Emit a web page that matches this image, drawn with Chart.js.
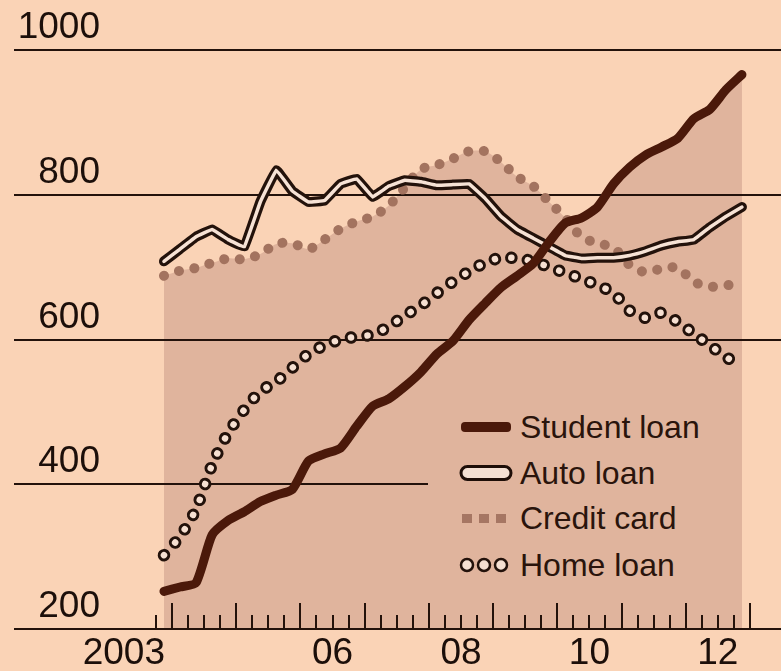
<!DOCTYPE html>
<html>
<head>
<meta charset="utf-8">
<script src="https://cdn.jsdelivr.net/npm/chart.js@4.4.1/dist/chart.umd.min.js"></script>
<style>
  html, body { margin: 0; padding: 0; background: #fad3b6; }
  #wrap { position: relative; width: 781px; height: 671px; }
  #legend {
    position: absolute; left: 428px; top: 398px; width: 353px; height: 198px;
    background: linear-gradient(to right, #e0b49d 0, #e0b49d 314px, #fad3b6 314px);
    font-family: "Liberation Sans", Arial, sans-serif;
    font-size: 32px; color: #2a140c;
  }
  .row { position: absolute; left: 30px; height: 46px; display: flex; align-items: center; white-space: nowrap; }
  .row svg { width: 56px; height: 20px; margin-right: 6px; }
</style>
</head>
<body>
<div id="wrap">
  <canvas id="chart" width="781" height="671"></canvas>
  <div id="legend">
    <div class="row" style="top:6px">
      <svg viewBox="0 0 56 20"><rect x="3" y="5" width="50" height="10" rx="4" fill="#4b190a"/></svg>
      <span>Student loan</span>
    </div>
    <div class="row" style="top:52px">
      <svg viewBox="0 0 56 20"><rect x="3" y="3.5" width="50" height="13" rx="6.5" fill="#f4e0d3" stroke="#1e0e08" stroke-width="3"/></svg>
      <span>Auto loan</span>
    </div>
    <div class="row" style="top:97px">
      <svg viewBox="0 0 56 20"><rect x="4" y="6" width="10" height="9" fill="#a67663"/><rect x="21" y="6" width="10" height="9" fill="#a67663"/><rect x="38" y="6" width="10" height="9" fill="#a67663"/></svg>
      <span>Credit card</span>
    </div>
    <div class="row" style="top:144px">
      <svg viewBox="0 0 56 20"><circle cx="9" cy="10" r="6" fill="#f6e0d2" stroke="#23120b" stroke-width="2.5"/><circle cx="26" cy="10" r="6" fill="#f6e0d2" stroke="#23120b" stroke-width="2.5"/><circle cx="43" cy="10" r="6" fill="#f6e0d2" stroke="#23120b" stroke-width="2.5"/></svg>
      <span>Home loan</span>
    </div>
  </div>
</div>
<script>
const quarters = [
  '2003Q4',
  '2004Q1', '2004Q2', '2004Q3', '2004Q4',
  '2005Q1', '2005Q2', '2005Q3', '2005Q4',
  '2006Q1', '2006Q2', '2006Q3', '2006Q4',
  '2007Q1', '2007Q2', '2007Q3', '2007Q4',
  '2008Q1', '2008Q2', '2008Q3', '2008Q4',
  '2009Q1', '2009Q2', '2009Q3', '2009Q4',
  '2010Q1', '2010Q2', '2010Q3', '2010Q4',
  '2011Q1', '2011Q2', '2011Q3', '2011Q4',
  '2012Q1', '2012Q2', '2012Q3', '2012Q4'
]

const studentLoan = [252, 258, 264, 330, 350, 362, 376, 385, 393, 432, 442, 450, 480, 508, 518, 535, 555, 580, 598, 627, 650, 672, 688, 705, 735, 761, 768, 783, 815, 838, 855, 866, 878, 905, 918, 945, 966]
const autoLoan = [708, 725, 742, 752, 738, 728, 790, 834, 805, 790, 792, 815, 822, 797, 812, 820, 818, 813, 814, 815, 795, 770, 752, 740, 728, 716, 712, 713, 713, 716, 722, 730, 735, 738, 755, 770, 783]
const creditCard = [688, 695, 699, 706, 712, 711, 718, 732, 733, 725, 738, 753, 763, 770, 785, 810, 835, 841, 850, 860, 860, 845, 825, 812, 790, 768, 742, 733, 727, 703, 693, 698, 699, 680, 673, 675, 676]
const homeLoan = [302, 328, 366, 427, 471, 503, 528, 542, 561, 580, 592, 600, 604, 607, 618, 633, 647, 664, 680, 694, 706, 713, 712, 708, 700, 692, 684, 675, 664, 640, 630, 637, 624, 608, 592, 576, 562]

const xLabelAt = [2003.25, 2006.5, 2008.5, 2010.5, 2012.5]
const xLabels = ['2003', '06', '08', '10', '12']
const yMin = 200
const yMax = 1000
const yStep = 200

const xMin = 2002.879
const xMax = 2013.483
const tickFrom = 2003.75
const tickTo = 2013

const ink = '#23120b'
const shade = '#e0b49d'
const font = '"Liberation Sans", Arial, sans-serif'

function quarterPos(q) {
  const year = parseInt(q.slice(0, 4), 10)
  const n = parseInt(q.slice(5), 10)
  return year + (n - 0.5) / 4
}

const toXY = vals => vals.map((v, i) => ({ x: quarterPos(quarters[i]), y: v }))

// tick marks stand up from the baseline: tall ones at year starts, short ones at quarters
const quarterTicks = {
  id: 'quarterTicks',
  afterDraw(chart) {
    const xs = chart.scales.x
    const base = chart.scales.y.getPixelForValue(yMin)
    const ctx = chart.ctx
    ctx.save()
    ctx.strokeStyle = ink
    ctx.lineWidth = 2
    xs.ticks.forEach(t => {
      if (t.value < tickFrom - 1e-6 || t.value > tickTo + 1e-6) return
      const px = Math.round(xs.getPixelForValue(t.value))
      const len = Number.isInteger(t.value) ? 26 : 14
      ctx.beginPath()
      ctx.moveTo(px, base)
      ctx.lineTo(px, base - len)
      ctx.stroke()
    })
    ctx.restore()
  }
}

const lineBase = {
  pointRadius: 0,
  borderCapStyle: 'round',
  borderJoinStyle: 'round',
  fill: false
}

new Chart(document.getElementById('chart'), {
  type: 'line',
  data: {
    datasets: [
      { ...lineBase, label: 'Student loan', data: toXY(studentLoan), borderColor: '#4b190a', borderWidth: 9, tension: 0.2, fill: 'start', backgroundColor: shade },
      { ...lineBase, label: 'Auto loan', data: toXY(autoLoan), borderColor: '#f6e2d5', borderWidth: 3.5, tension: 0.05 },
      { ...lineBase, label: 'Auto loan edge', data: toXY(autoLoan), borderColor: ink, borderWidth: 10, tension: 0.05 },
      { ...lineBase, label: 'Credit card', data: toXY(creditCard), borderColor: '#a3735f', borderWidth: 10, borderDash: [0.1, 15.5], tension: 0.3, fill: 'start', backgroundColor: shade },
      { ...lineBase, label: 'Home loan', data: toXY(homeLoan), borderColor: '#f6e0d2', borderWidth: 6.5, borderDash: [0.1, 16.5], tension: 0.3 },
      { ...lineBase, label: 'Home loan edge', data: toXY(homeLoan), borderColor: ink, borderWidth: 12.5, borderDash: [0.1, 16.5], tension: 0.3 }
    ]
  },
  options: {
    responsive: false,
    animation: false,
    layout: { padding: { top: 50, left: 14, right: 0, bottom: 0 } },
    plugins: {
      legend: { display: false },
      tooltip: { enabled: false },
      filler: { drawTime: 'beforeDraw' }
    },
    scales: {
      x: {
        type: 'linear',
        min: xMin,
        max: xMax,
        afterFit(scale) { scale.height = 42 },
        grid: { display: false, drawTicks: false },
        border: { display: true, color: ink, width: 2 },
        ticks: {
          stepSize: 0.25,
          includeBounds: false,
          autoSkip: false,
          maxRotation: 0,
          minRotation: 0,
          padding: 3,
          color: '#1c0f0a',
          font: { family: font, size: 37 },
          callback(value) {
            const i = xLabelAt.indexOf(value)
            return i >= 0 ? xLabels[i] : ''
          }
        }
      },
      y: {
        min: yMin,
        max: yMax,
        afterFit(scale) { scale.width = 86 },
        grid: { color: ink, lineWidth: 2, drawTicks: true, tickLength: 86 },
        border: { display: false },
        ticks: {
          stepSize: yStep,
          padding: -86,
          crossAlign: 'near',
          labelOffset: -22,
          color: '#1c0f0a',
          font: { family: font, size: 37 },
          callback: value => String(value)
        }
      }
    }
  },
  plugins: [quarterTicks]
})
</script>
</body>
</html>
